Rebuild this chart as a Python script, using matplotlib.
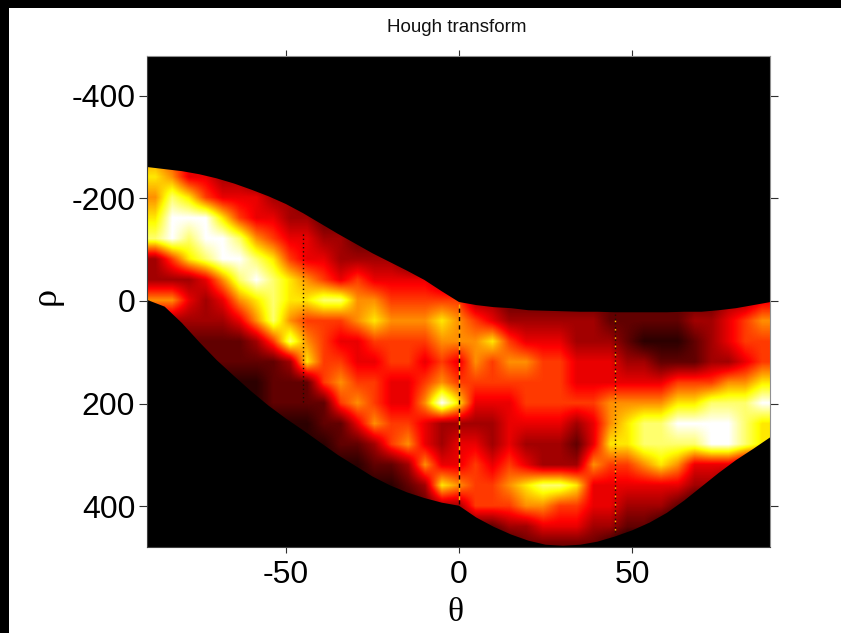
import numpy as np
import matplotlib
matplotlib.use('Agg')
import matplotlib.pyplot as plt
from matplotlib.colors import PowerNorm
from matplotlib.patches import Polygon, Rectangle

W, H = 841, 633

theta = [-90, -85, -80, -75, -70, -65, -60, -55, -50, -45, -40, -35, -30, -25, -20, -15, -10, -5, 0,
         5, 10, 15, 20, 25, 30, 35, 40, 45, 50, 55, 60, 65, 70, 75, 80, 85, 90]
rho = [-280, -240, -200, -160, -120, -80, -40, 0, 40, 80, 120, 160, 200, 240, 280, 320, 360, 400, 440, 480]

# outline of the non zero part of the accumulator
rho_upper = [-261, -257, -253, -247, -239, -229, -217, -204, -189, -171, -151, -131, -112, -93, -76, -59, -41, -19, 2,
             8, 12, 14, 18, 19, 20, 21, 21, 22, 22, 22, 22, 21, 21, 18, 14, 8, 2]
rho_lower = [-2, 11, 43, 80, 115, 146, 176, 204, 229, 252, 276, 300, 321, 342, 359, 373, 384, 393, 399,
             422, 440, 455, 467, 475, 477, 475, 469, 459, 447, 432, 413, 389, 362, 335, 310, 288, 265]

# votes on a 0-9 scale, one row per rho, one column per theta
votes = [
    [6, 5, 4, 3, 2, 1, 0, 0, 0, 0, 0, 0, 0, 0, 0, 0, 0, 0, 0, 0, 0, 0, 0, 0, 0, 0, 0, 0, 0, 0, 0, 0, 0, 0, 0, 0, 0],
    [7, 6, 4, 4, 3, 3, 2, 2, 1, 0, 0, 0, 0, 0, 0, 0, 0, 0, 0, 0, 0, 0, 0, 0, 0, 0, 0, 0, 0, 0, 0, 0, 0, 0, 0, 0, 0],
    [6, 8, 7, 5, 4, 4, 4, 3, 3, 2, 1, 0, 0, 0, 0, 0, 0, 0, 0, 0, 0, 0, 0, 0, 0, 0, 0, 0, 0, 0, 0, 0, 0, 0, 0, 0, 0],
    [7, 9, 9, 9, 7, 5, 4, 4, 3, 3, 2, 2, 1, 0, 0, 0, 0, 0, 0, 0, 0, 0, 0, 0, 0, 0, 0, 0, 0, 0, 0, 0, 0, 0, 0, 0, 0],
    [8, 9, 8, 9, 9, 8, 6, 5, 4, 4, 3, 3, 2, 2, 1, 0, 0, 0, 0, 0, 0, 0, 0, 0, 0, 0, 0, 0, 0, 0, 0, 0, 0, 0, 0, 0, 0],
    [3, 5, 7, 8, 9, 9, 8, 7, 5, 4, 4, 3, 3, 3, 3, 2, 1, 0, 0, 0, 0, 0, 0, 0, 0, 0, 0, 0, 0, 0, 0, 0, 0, 0, 0, 0, 0],
    [3, 3, 3, 4, 6, 8, 9, 8, 7, 6, 5, 4, 5, 4, 4, 4, 4, 3, 2, 1, 0, 0, 0, 0, 0, 0, 0, 0, 0, 0, 0, 0, 0, 0, 0, 2, 3],
    [6, 6, 4, 3, 4, 6, 7, 8, 7, 7, 8, 8, 6, 6, 5, 5, 5, 5, 5, 3, 3, 2, 2, 2, 2, 2, 2, 2, 2, 2, 2, 2, 2, 2, 3, 3, 4],
    [3, 3, 3, 3, 3, 4, 6, 8, 6, 5, 5, 5, 6, 7, 6, 6, 6, 7, 6, 5, 4, 3, 3, 3, 3, 3, 3, 2, 2, 2, 2, 2, 3, 3, 4, 5, 6],
    [2, 2, 2, 2, 2, 2, 3, 5, 8, 6, 5, 4, 4, 5, 5, 5, 5, 6, 6, 6, 7, 5, 4, 4, 4, 3, 3, 3, 2, 1, 1, 1, 2, 3, 4, 5, 5],
    [2, 2, 2, 2, 2, 2, 2, 2, 3, 7, 5, 5, 4, 4, 5, 5, 4, 5, 4, 6, 5, 6, 6, 5, 5, 4, 4, 4, 3, 3, 2, 2, 2, 3, 3, 4, 5],
    [1, 1, 1, 1, 1, 1, 1, 2, 2, 2, 5, 6, 5, 5, 4, 4, 5, 6, 5, 5, 5, 5, 5, 5, 5, 4, 4, 4, 4, 4, 4, 5, 5, 5, 6, 6, 7],
    [1, 1, 1, 1, 1, 1, 1, 2, 2, 2, 2, 5, 6, 5, 4, 4, 6, 9, 7, 4, 4, 4, 5, 5, 5, 5, 5, 6, 6, 6, 6, 7, 7, 8, 8, 8, 9],
    [0, 0, 0, 0, 0, 0, 1, 1, 1, 1, 2, 2, 4, 6, 5, 5, 4, 3, 3, 3, 3, 4, 4, 4, 4, 3, 4, 6, 7, 8, 8, 9, 9, 9, 9, 8, 7],
    [0, 0, 0, 0, 0, 0, 0, 0, 1, 1, 1, 2, 2, 3, 5, 6, 4, 3, 4, 4, 3, 4, 3, 3, 3, 2, 4, 7, 7, 8, 8, 8, 8, 9, 9, 8, 7],
    [0, 0, 0, 0, 0, 0, 0, 0, 0, 0, 1, 1, 1, 2, 2, 3, 6, 4, 4, 5, 4, 5, 4, 3, 3, 3, 6, 5, 5, 6, 7, 6, 4, 4, 4, 3, 3],
    [0, 0, 0, 0, 0, 0, 0, 0, 0, 0, 0, 0, 1, 1, 1, 2, 3, 7, 6, 5, 5, 6, 7, 8, 8, 7, 4, 4, 4, 4, 4, 4, 3, 3, 2, 1, 0],
    [0, 0, 0, 0, 0, 0, 0, 0, 0, 0, 0, 0, 0, 0, 1, 1, 2, 3, 3, 5, 5, 5, 6, 6, 5, 5, 4, 4, 3, 3, 3, 2, 1, 0, 0, 0, 0],
    [0, 0, 0, 0, 0, 0, 0, 0, 0, 0, 0, 0, 0, 0, 0, 0, 0, 1, 2, 2, 2, 3, 3, 4, 4, 4, 3, 3, 2, 2, 1, 0, 0, 0, 0, 0, 0],
    [0, 0, 0, 0, 0, 0, 0, 0, 0, 0, 0, 0, 0, 0, 0, 0, 0, 0, 0, 0, 0, 1, 2, 2, 2, 2, 2, 1, 0, 0, 0, 0, 0, 0, 0, 0, 0],
]

# dotted columns in the accumulator: theta, rho start, rho end, colour
streak_theta = [-45, 0, 0, 45, 45]
streak_start = [-130, 5, 5, 25, 25]
streak_end = [200, 395, 395, 455, 455]
streak_color = ['#1a0c00', '#ffb000', '#200000', '#201000', '#ffc000']
streak_dash = [(0, (1, 2)), (0, (3, 3)), (3, (3, 3)), (0, (1, 2)), (1.5, (1, 5))]

plt.rcParams['font.family'] = ['Liberation Sans', 'DejaVu Sans']
plt.rcParams['axes.unicode_minus'] = False

fig = plt.figure(figsize=(W / 100, H / 100), dpi=100)
ax = fig.add_axes([147 / W, 1 - 547.3 / H, 623 / W, 491.6 / H])
ax.set_facecolor('black')

im = ax.imshow(np.array(votes) / 9.0, cmap='hot', norm=PowerNorm(1.35, vmin=0, vmax=1), aspect='auto',
               interpolation='bilinear', origin='upper',
               extent=[theta[0], theta[-1], rho[-1] + 20, rho[0] - 20])
outline = np.column_stack([theta + theta[::-1], rho_upper + rho_lower[::-1]])
clip = Polygon(outline, closed=True, transform=ax.transData)
im.set_clip_path(clip)

for t, a, b, c, d in zip(streak_theta, streak_start, streak_end, streak_color, streak_dash):
    ax.plot([t, t], [a, b], color=c, lw=1, linestyle=d)

ax.set_xlim(-90.1, 89.8)
ax.set_ylim(480, -478)

ax.set_xticks([-50, 0, 50])
ax.set_yticks([-400, -200, 0, 200, 400])
ax.tick_params(axis='x', which='major', top=True, bottom=True, direction='out', length=4, width=0.8,
               labelsize=23, pad=5, color='#303030')
ax.tick_params(axis='y', which='major', left=True, right=True, direction='out', length=5.5, width=0.8,
               labelsize=23, pad=3, color='#303030')
ax.spines['left'].set_color('#404040')
ax.spines['bottom'].set_color('#404040')
ax.spines['top'].set_color('#909090')
ax.spines['right'].set_color('#909090')

fig.text(456.5 / W, 1 - 27 / H, 'Hough transform', fontsize=13.5, ha='center', va='center', color='#111111')
fig.text(455 / W, 1 - 613 / H, '\u03b8', family='Liberation Serif', fontsize=24, ha='center', va='center')
fig.text(46 / W, 1 - 296 / H, '\u03c1', family='Liberation Serif', fontsize=26, rotation=90, ha='center', va='center')

# black strips along the left and top edge of the screenshot
fig.add_artist(Rectangle((0, 0), 9 / W, 1, transform=fig.transFigure, color='black', lw=0))
fig.add_artist(Rectangle((0, 1 - 8 / H), 1, 8 / H, transform=fig.transFigure, color='black', lw=0))

fig.savefig('out.png', dpi=100)
